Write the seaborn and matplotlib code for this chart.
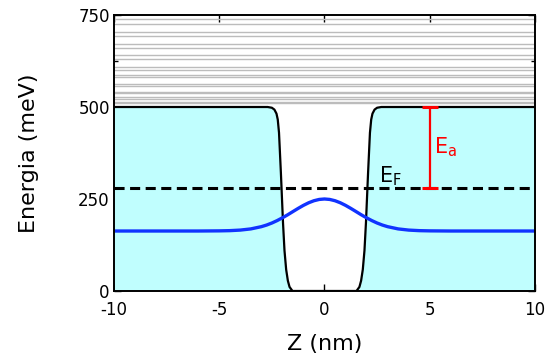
import numpy as np
import pandas as pd
import seaborn as sns
import matplotlib
matplotlib.use('Agg')
import matplotlib.pyplot as plt

# potential profile of the well (meV)
z_pot = [-10, -2.7, -2.5, -2.38, -2.28, -2.22, -2.16, -2.07, -1.97, -1.9, -1.82, -1.74, -1.66, -1.52,
         1.52, 1.66, 1.74, 1.82, 1.9, 1.97, 2.07, 2.16, 2.22, 2.28, 2.38, 2.5, 2.7, 10]
v_pot = [500, 500, 498, 493, 482, 466, 430, 320, 185, 110, 58, 28, 11, 0,
         0, 11, 28, 58, 110, 185, 320, 430, 466, 482, 493, 498, 500, 500]

# ground state level + wavefunction (meV)
z_psi = [-10, -6, -5, -4.5, -4, -3.5, -3, -2.75, -2.5, -2.25, -2, -1.75, -1.5, -1.25, -1, -0.75, -0.5, -0.25, 0,
         0.25, 0.5, 0.75, 1, 1.25, 1.5, 1.75, 2, 2.25, 2.5, 2.75, 3, 3.5, 4, 4.5, 5, 6, 10]
e_psi = [163, 163, 163.4, 164, 165.5, 168.7, 174.8, 179.2, 184.7, 191.3, 198.8, 207, 215.8, 224.5, 232.7, 239.8, 245.3, 248.8, 250,
         248.8, 245.3, 239.8, 232.7, 224.5, 215.8, 207, 198.8, 191.3, 184.7, 179.2, 174.8, 168.7, 165.5, 164, 163.4, 163, 163]

# continuum states above the barrier (pairs of levels, meV)
cont_lo = [726, 694, 661, 630, 601, 581, 556, 537, 522, 511]
cont_hi = [739, 705, 671, 640, 609, 587, 562, 541, 527, 514]

E_fermi = 280
E_barrier = 500
z_arrow = 5

sns.set_style("ticks")
plt.rcParams['font.family'] = ['DejaVu Sans']
plt.rcParams['xtick.direction'] = 'in'
plt.rcParams['ytick.direction'] = 'in'

fig = plt.figure(figsize=(5.47, 3.6), dpi=100)
ax = fig.add_axes([0.2084, 0.1917, 0.7696, 0.7666])

pot = pd.DataFrame({'z': z_pot, 'V': v_pot})
psi = pd.DataFrame({'z': z_psi, 'E': e_psi})

ax.fill_between(pot.z, 0, pot.V, color='#c0fefe', lw=0, zorder=1)

for lo, hi in zip(cont_lo, cont_hi):
    for lev in (lo, hi):
        ax.plot([-10, 10], [lev, lev], color='#bcbcbc', lw=1.0, zorder=2)

sns.lineplot(data=pot, x='z', y='V', color='black', lw=1.6, sort=False, ax=ax, zorder=4)
sns.lineplot(data=psi, x='z', y='E', color='#1133ff', lw=2.4, sort=False, ax=ax, zorder=5)
ax.axhline(E_fermi, color='black', lw=2.2, linestyle=(0, (3.3, 1.8)), zorder=6)

ax.vlines(z_arrow, E_fermi, E_barrier, color='red', lw=1.6, zorder=7)
ax.hlines([E_fermi, E_barrier], z_arrow - 0.38, z_arrow + 0.38, color='red', lw=2.2, zorder=7)

ax.text(5.2, 392, r'E$_\mathregular{a}$', color='red', fontsize=15, ha='left', va='center')
ax.text(2.6, 312, r'E$_\mathregular{F}$', color='black', fontsize=15, ha='left', va='center')

ax.set_xlim(-10, 10)
ax.set_ylim(0, 750)
ax.set_xticks([-10, -5, 0, 5, 10])
ax.set_xticklabels(['-10', '-5', '0', '5', '10'])
ax.set_yticks([0, 250, 500, 750])
ax.set_yticks([125, 375, 625], minor=True)
ax.tick_params(axis='both', which='both', top=True, right=True, labelsize=12,
               width=1.0, color='black', labelcolor='black')
ax.tick_params(which='major', length=5)
ax.tick_params(axis='x', which='major', pad=7)
ax.tick_params(axis='y', which='major', pad=3)
ax.tick_params(which='minor', length=3)
for s in ax.spines.values():
    s.set_linewidth(1.4)
    s.set_color('black')
    s.set_zorder(10)

ax.set_xlabel('Z (nm)', fontsize=16, labelpad=11, color='black')
ax.set_ylabel('Energia (meV)', fontsize=16, labelpad=28, color='black')

fig.savefig('out.png', dpi=100)
